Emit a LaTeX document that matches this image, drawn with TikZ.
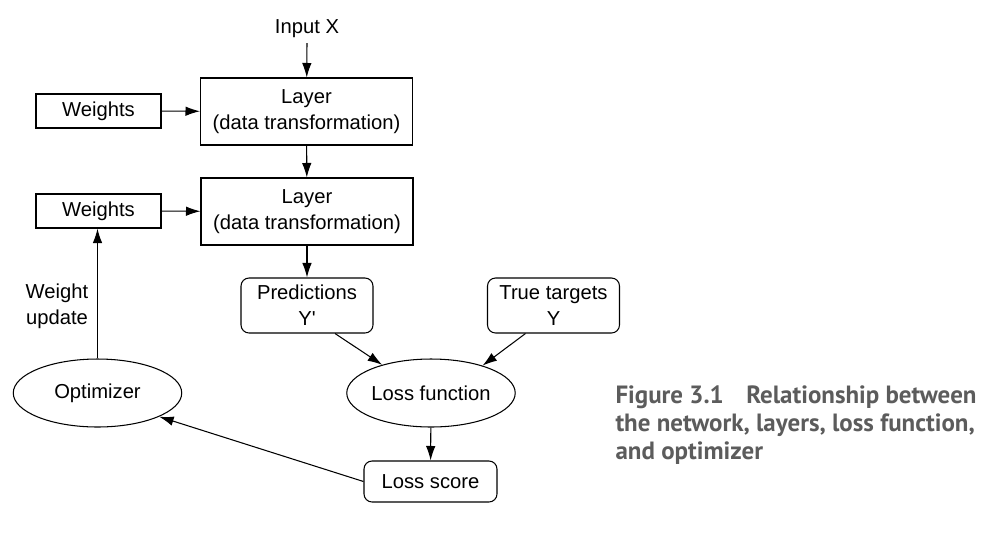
\documentclass[tikz,border=0pt]{standalone}
\usepackage{fontspec}
\setmainfont{Liberation Sans}
\newfontfamily\capfont{PT Sans}
\usetikzlibrary{arrows.meta,shapes.geometric}
\definecolor{capgray}{RGB}{92,92,92}

\def\dLW{4.24cm}
\def\dLH{1.34cm}
\def\dBW{2.64cm}
\def\dBH{1.10cm}

\begin{document}
\begin{tikzpicture}[x=0.02cm, y=-0.02cm, line width=0.6pt,
    >={Latex[length=2.9mm,width=1.9mm]},
    every node/.style={font=\fontsize{11.5}{14.8}\selectfont, inner sep=0pt, align=center},
    layerbox/.style={draw, minimum width=\dLW, minimum height=\dLH},
    wbox/.style={draw, minimum width=2.5cm, minimum height=0.68cm},
    outbox/.style={draw, rounded corners=1.6mm, minimum width=\dBW, minimum height=\dBH},
    lossell/.style={draw, shape=ellipse, minimum width=3.37cm, minimum height=1.36cm},
    capnode/.style={font=\capfont\bfseries\fontsize{14.2}{15.9}\selectfont, text=capgray, align=left}]

    \useasboundingbox (0,0) rectangle (988,532);

    %%   (lable)  (x, y)     {\text}
    \coordinate (CIn) at (307, 43);

    \node (In) at (307, 29) {Input X};
    \node[layerbox] (L1) at (306.5, 111.5) {Layer\\(data transformation)};
    \node[layerbox] (L2) at (307,   211.5) {Layer\\(data transformation)};
    \node[wbox]     (W1) at (98.5,  111)   {Weights};
    \node[wbox]     (W2) at (98.5,  211)   {Weights};
    \node[outbox]   (P)  at (307,   305.5) {Predictions\\Y\textquotesingle};
    \node[outbox]   (T)  at (553.5, 305.5) {True targets\\Y};
    \node[lossell]  (LF) at (431,   393)   {Loss function};
    \node[lossell]  (O)  at (97.5,  393)   {Optimizer};
    \node[outbox, minimum width=2.66cm, minimum height=0.82cm] (LS) at (430.5, 481.5) {Loss score};
    \node (Upd) at (57, 306) {Weight\\update};

    \node[capnode, anchor=north west] (Cap) at (615, 385)
        {Figure 3.1\hspace{0.45cm}Relationship between\\the network, layers, loss function,\\and optimizer};

    \path[->] (CIn) edge (L1);
    \path[->] (W1) edge (L1);
    \path[->] (W2) edge (L2);
    \path[->] (L1) edge (L2);
    \path[->] (L2) edge (P);
    \path[->] (P.-45) edge (LF.150);
    \path[->] (T.-135) edge (LF.28);
    \path[->] (LF) edge (LS);
    \path[->] (LS.west) edge (O.-21);
    \path[->] (O.north) edge (O.north |- W2.south);

  \end{tikzpicture}
\end{document}
